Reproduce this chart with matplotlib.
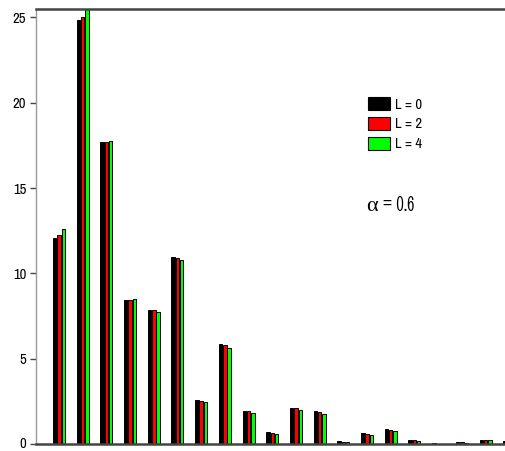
import numpy as np
import matplotlib.pyplot as plt
from matplotlib.patches import Patch
from matplotlib.transforms import ScaledTranslation

# bar heights, one value per group
L0 = [12.1, 24.82, 17.68, 8.45, 7.88, 10.97, 2.6, 5.9, 1.95, 0.7,
      2.15, 1.93, 0.17, 0.65, 0.88, 0.25, 0.05, 0.15, 0.28, 0.2]
L2 = [12.24, 25.03, 17.72, 8.45, 7.85, 10.9, 2.55, 5.8, 1.93, 0.68,
      2.1, 1.87, 0.15, 0.63, 0.85, 0.23, 0.04, 0.14, 0.27, 0.2]
L4 = [12.62, 25.6, 17.78, 8.5, 7.75, 10.8, 2.48, 5.62, 1.85, 0.62,
      2.0, 1.78, 0.12, 0.57, 0.77, 0.2, 0.04, 0.1, 0.24, 0.18]
labels = ['L = 0', 'L = 2', 'L = 4']
colors = ['#000000', '#ff0000', '#00ff00']
yticks = [0, 5, 10, 15, 20, 25]

narrow = ['Archivo Narrow', 'DejaVu Sans']

fig = plt.figure(figsize=(5.05, 4.51), dpi=100)
ax = fig.add_axes([36 / 505, 1 - 444.3 / 451, (505 - 36) / 505, (444.3 - 8.7) / 451])

x = np.arange(len(L0))
off = 0.18
w = 0.145
for k, (vals, c) in enumerate(zip([L0, L2, L4], colors)):
    ax.bar(x + (k - 1) * off, vals, width=w, color=c, edgecolor='black', linewidth=0.7)

ax.set_xlim(-0.97, 18.82)
ax.set_ylim(0, 25.5)
ax.set_xticks([])
ax.set_yticks(yticks)
ax.set_yticklabels([str(t) for t in yticks], family=narrow, fontsize=10.5)
ax.tick_params(axis='y', length=4, width=1, color='#444444', pad=3)
# keep the "0" label inside the canvas
zero = ax.get_yticklabels()[0]
zero.set_transform(zero.get_transform() + ScaledTranslation(0, 2 / 100, fig.dpi_scale_trans))

ax.spines['right'].set_visible(False)
ax.spines['left'].set_color('#999999')
ax.spines['left'].set_linewidth(1)
for s in ['top', 'bottom']:
    ax.spines[s].set_color('#444444')
    ax.spines[s].set_linewidth(1.8)

handles = [Patch(facecolor=c, edgecolor='black', linewidth=0.8) for c in colors]
fig.legend(handles, labels, loc='upper left', bbox_to_anchor=(368 / 505, 1 - 97 / 451),
           frameon=False, prop={'family': narrow, 'size': 10.5},
           handlelength=1.5, handleheight=1.0, handletextpad=0.35,
           labelspacing=0.36, borderpad=0, borderaxespad=0)

fig.text(367 / 505, 1 - 205 / 451, 'α = 0.6', family=['Stint Ultra Condensed', 'Liberation Serif'],
         fontsize=16, va='center', ha='left')

fig.savefig('out.png', dpi=100)
